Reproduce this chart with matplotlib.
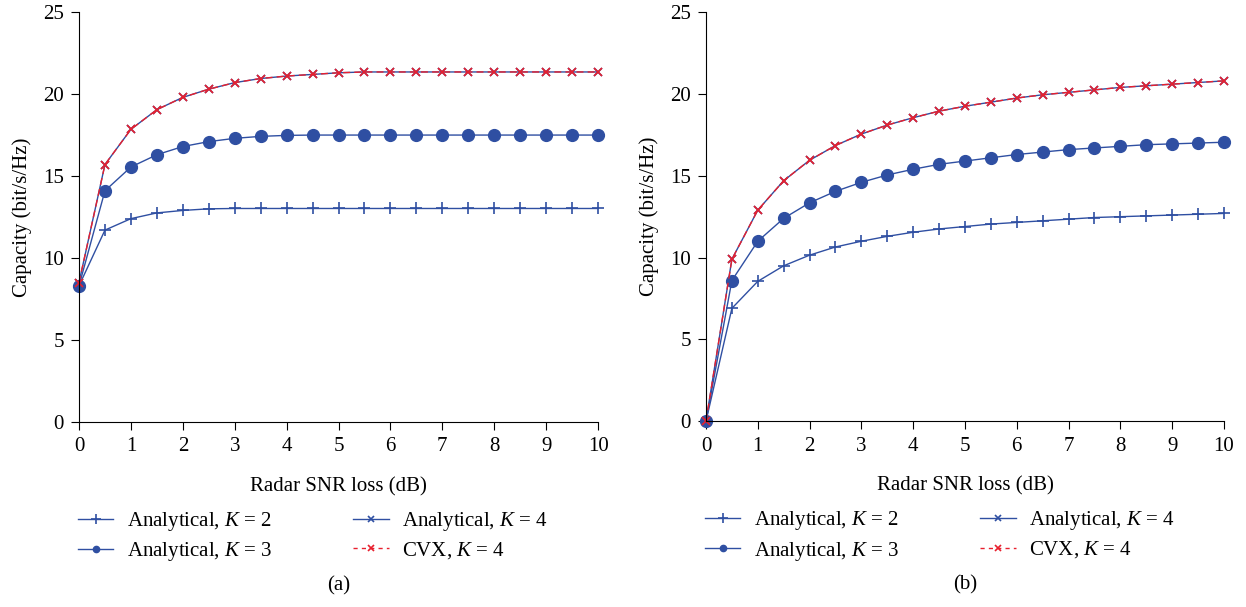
import matplotlib
matplotlib.use("Agg")
import matplotlib.pyplot as plt

plt.rcParams['font.family'] = ['Liberation Serif', 'DejaVu Serif']
plt.rcParams['mathtext.fontset'] = 'custom'
plt.rcParams['mathtext.it'] = 'Liberation Serif:italic'
plt.rcParams['mathtext.rm'] = 'Liberation Serif'

snr_loss = [0, 0.5, 1, 1.5, 2, 2.5, 3, 3.5, 4, 4.5, 5, 5.5, 6, 6.5, 7, 7.5, 8, 8.5, 9, 9.5, 10]

# Panel (a)
a_k2 = [8.3, 11.7, 12.4, 12.75, 12.9, 13.0, 13.02, 13.02, 13.02, 13.02, 13.02, 13.02, 13.02, 13.02, 13.02, 13.02, 13.02, 13.02, 13.02, 13.02, 13.02]
a_k3 = [8.3, 14.1, 15.55, 16.3, 16.8, 17.1, 17.3, 17.42, 17.48, 17.5, 17.5, 17.5, 17.5, 17.5, 17.5, 17.5, 17.5, 17.5, 17.5, 17.5, 17.5]
a_k4 = [8.5, 15.7, 17.85, 19.05, 19.8, 20.3, 20.7, 20.95, 21.1, 21.2, 21.3, 21.35, 21.35, 21.35, 21.35, 21.35, 21.35, 21.35, 21.35, 21.35, 21.35]
a_cvx = [8.5, 15.7, 17.85, 19.05, 19.8, 20.3, 20.7, 20.95, 21.1, 21.2, 21.3, 21.35, 21.35, 21.35, 21.35, 21.35, 21.35, 21.35, 21.35, 21.35, 21.35]

# Panel (b)
b_k2 = [0.0, 6.9, 8.55, 9.5, 10.15, 10.65, 11.0, 11.3, 11.55, 11.75, 11.9, 12.05, 12.15, 12.25, 12.35, 12.45, 12.5, 12.55, 12.6, 12.65, 12.7]
b_k3 = [0.0, 8.6, 11.0, 12.4, 13.35, 14.05, 14.6, 15.05, 15.4, 15.7, 15.9, 16.1, 16.3, 16.45, 16.6, 16.7, 16.8, 16.9, 16.95, 17.0, 17.05]
b_k4 = [0.0, 9.9, 12.9, 14.7, 15.95, 16.85, 17.55, 18.1, 18.55, 18.95, 19.25, 19.5, 19.75, 19.95, 20.1, 20.25, 20.4, 20.5, 20.6, 20.7, 20.8]
b_cvx = [0.0, 9.9, 12.9, 14.7, 15.95, 16.85, 17.55, 18.1, 18.55, 18.95, 19.25, 19.5, 19.75, 19.95, 20.1, 20.25, 20.4, 20.5, 20.6, 20.7, 20.8]

labels = ['Analytical, $K$ = 2', 'Analytical, $K$ = 3', 'Analytical, $K$ = 4', 'CVX, $K$ = 4']
xlabel = 'Radar SNR loss (dB)'
ylabel = 'Capacity (bit/s/Hz)'
captions = ['(a)', '(b)']
xticks = list(range(0, 11))
yticks = [0, 5, 10, 15, 20, 25]

BLUE = '#2f4fa2'
RED = '#e8202e'
FS = 15

fig = plt.figure(figsize=(12.46, 6.07), dpi=100)
axes = [fig.add_axes([0.0634, 0.305, 0.4166, 0.675]),
        fig.add_axes([0.5666, 0.306, 0.4157, 0.674])]

panels = [(a_k2, a_k3, a_k4, a_cvx), (b_k2, b_k3, b_k4, b_cvx)]
for i, (ax, (k2, k3, k4, cvx)) in enumerate(zip(axes, panels)):
    l1, = ax.plot(snr_loss, k2, color=BLUE, lw=1.0, marker='+', ms=8, mew=1.2, label=labels[0])
    l2, = ax.plot(snr_loss, k3, color=BLUE, lw=1.0, marker='o', ms=8.5, label=labels[1])
    l3, = ax.plot(snr_loss, k4, color=BLUE, lw=1.0, marker='x', ms=6, mew=1.2, label=labels[2])
    l4, = ax.plot(snr_loss, cvx, color=RED, lw=1.0, ls=(0, (5, 3)), marker='x', ms=6, mew=1.2, label=labels[3])
    ax.set_xlim(0, 10)
    ax.set_ylim(0, 25)
    ax.set_xticks(xticks)
    ax.set_yticks(yticks)
    for s in ['top', 'right']:
        ax.spines[s].set_visible(False)
    ax.tick_params(direction='out', length=6, width=0.8, labelsize=FS, pad=5)
    ax.set_xlabel(xlabel, fontsize=FS, labelpad=15)
    ax.set_ylabel(ylabel, fontsize=FS, labelpad=8)
    for line in ax.get_lines():
        line.set_clip_on(False)

    handles = [l1, l2, l3, l4]
    leg = ax.legend(handles=handles, labels=labels, ncol=2, loc='upper left',
                    bbox_to_anchor=(-0.002, -0.215), frameon=False, fontsize=FS,
                    borderpad=0, borderaxespad=0,
                    handlelength=1.7, handletextpad=0.65, columnspacing=3.9,
                    labelspacing=0.35)
    for h, ms in zip(leg.legend_handles, [6.5, 4.5, 4.5, 4.5]):
        h.set_markersize(ms)
    leg.legend_handles[3].set_linestyle((0, (3, 3)))
    ax.text(0.5, -0.4, captions[i], transform=ax.transAxes, ha='center', va='center', fontsize=FS)

fig.savefig('out.png', dpi=100)
